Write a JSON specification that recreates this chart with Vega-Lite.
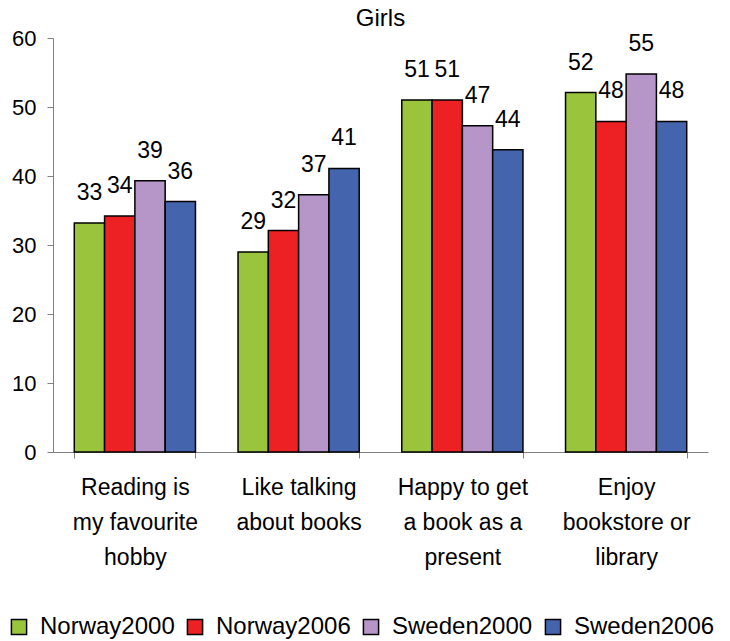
{
  "$schema": "https://vega.github.io/schema/vega-lite/v6.json",
  "autosize": "none",
  "width": 655,
  "height": 414,
  "padding": {"left": 53, "top": 38, "right": 22, "bottom": 189},
  "background": "white",
  "config": {"view": {"stroke": null}, "font": "Liberation Sans"},
  "title": {"text": "Girls", "fontSize": 24, "fontWeight": "normal", "font": "Liberation Sans", "color": "black", "offset": -4, "anchor": "middle"},
  "data": {"values": [
    {"cat": "Reading is|my favourite|hobby", "series": "Norway2000", "value": 33.2},
    {"cat": "Reading is|my favourite|hobby", "series": "Norway2006", "value": 34.2},
    {"cat": "Reading is|my favourite|hobby", "series": "Sweden2000", "value": 39.3},
    {"cat": "Reading is|my favourite|hobby", "series": "Sweden2006", "value": 36.3},
    {"cat": "Like talking|about books", "series": "Norway2000", "value": 29.0},
    {"cat": "Like talking|about books", "series": "Norway2006", "value": 32.1},
    {"cat": "Like talking|about books", "series": "Sweden2000", "value": 37.3},
    {"cat": "Like talking|about books", "series": "Sweden2006", "value": 41.1},
    {"cat": "Happy to get|a book as a|present", "series": "Norway2000", "value": 51.0},
    {"cat": "Happy to get|a book as a|present", "series": "Norway2006", "value": 51.0},
    {"cat": "Happy to get|a book as a|present", "series": "Sweden2000", "value": 47.3},
    {"cat": "Happy to get|a book as a|present", "series": "Sweden2006", "value": 43.8},
    {"cat": "Enjoy|bookstore or|library", "series": "Norway2000", "value": 52.1},
    {"cat": "Enjoy|bookstore or|library", "series": "Norway2006", "value": 47.9},
    {"cat": "Enjoy|bookstore or|library", "series": "Sweden2000", "value": 54.8},
    {"cat": "Enjoy|bookstore or|library", "series": "Sweden2006", "value": 47.9}
  ]},
  "encoding": {
    "x": {
      "field": "cat", "type": "nominal", "sort": null,
      "scale": {"paddingInner": 0.26, "paddingOuter": 0.13},
      "axis": {
        "title": null, "labelAngle": 0, "labelFontSize": 23, "labelColor": "black",
        "labelExpr": "split(datum.label, '|')", "labelLineHeight": 35,
        "labelPadding": 36, "tickBand": "extent", "tickSize": 6, "labelLimit": 300,
        "domainColor": "#808080", "tickColor": "#808080", "labelBaseline": "alphabetic"
      }
    },
    "xOffset": {"field": "series", "type": "nominal", "scale": {"paddingInner": 0, "paddingOuter": 0}},
    "y": {
      "field": "value", "type": "quantitative",
      "scale": {"domain": [0, 60], "nice": false},
      "axis": {
        "title": null, "values": [0, 10, 20, 30, 40, 50, 60], "grid": false,
        "labelFontSize": 22, "labelColor": "black", "labelPadding": 11, "tickSize": 6,
        "domainColor": "#808080", "tickColor": "#808080"
      }
    }
  },
  "layer": [
    {
      "mark": {"type": "bar", "stroke": "black", "strokeWidth": 1.5},
      "encoding": {
        "color": {
          "field": "series", "type": "nominal",
          "scale": {"domain": ["Norway2000", "Norway2006", "Sweden2000", "Sweden2006"], "range": ["#9BC43D", "#ED2024", "#B696C8", "#4564AE"]},
          "legend": {
            "orient": "none", "direction": "horizontal", "legendX": -46, "legendY": 577,
            "title": null, "symbolType": "square", "symbolSize": 230, "symbolStrokeColor": "black",
            "symbolStrokeWidth": 1.5, "labelFontSize": 24, "labelColor": "black", "columnPadding": 8,
            "labelOffset": 9, "symbolOpacity": 1, "labelLimit": 300
          }
        }
      }
    },
    {
      "mark": {"type": "text", "baseline": "alphabetic", "dy": -23, "fontSize": 23, "color": "black"},
      "encoding": {"text": {"field": "value", "type": "quantitative", "format": ".0f"}}
    }
  ]
}
